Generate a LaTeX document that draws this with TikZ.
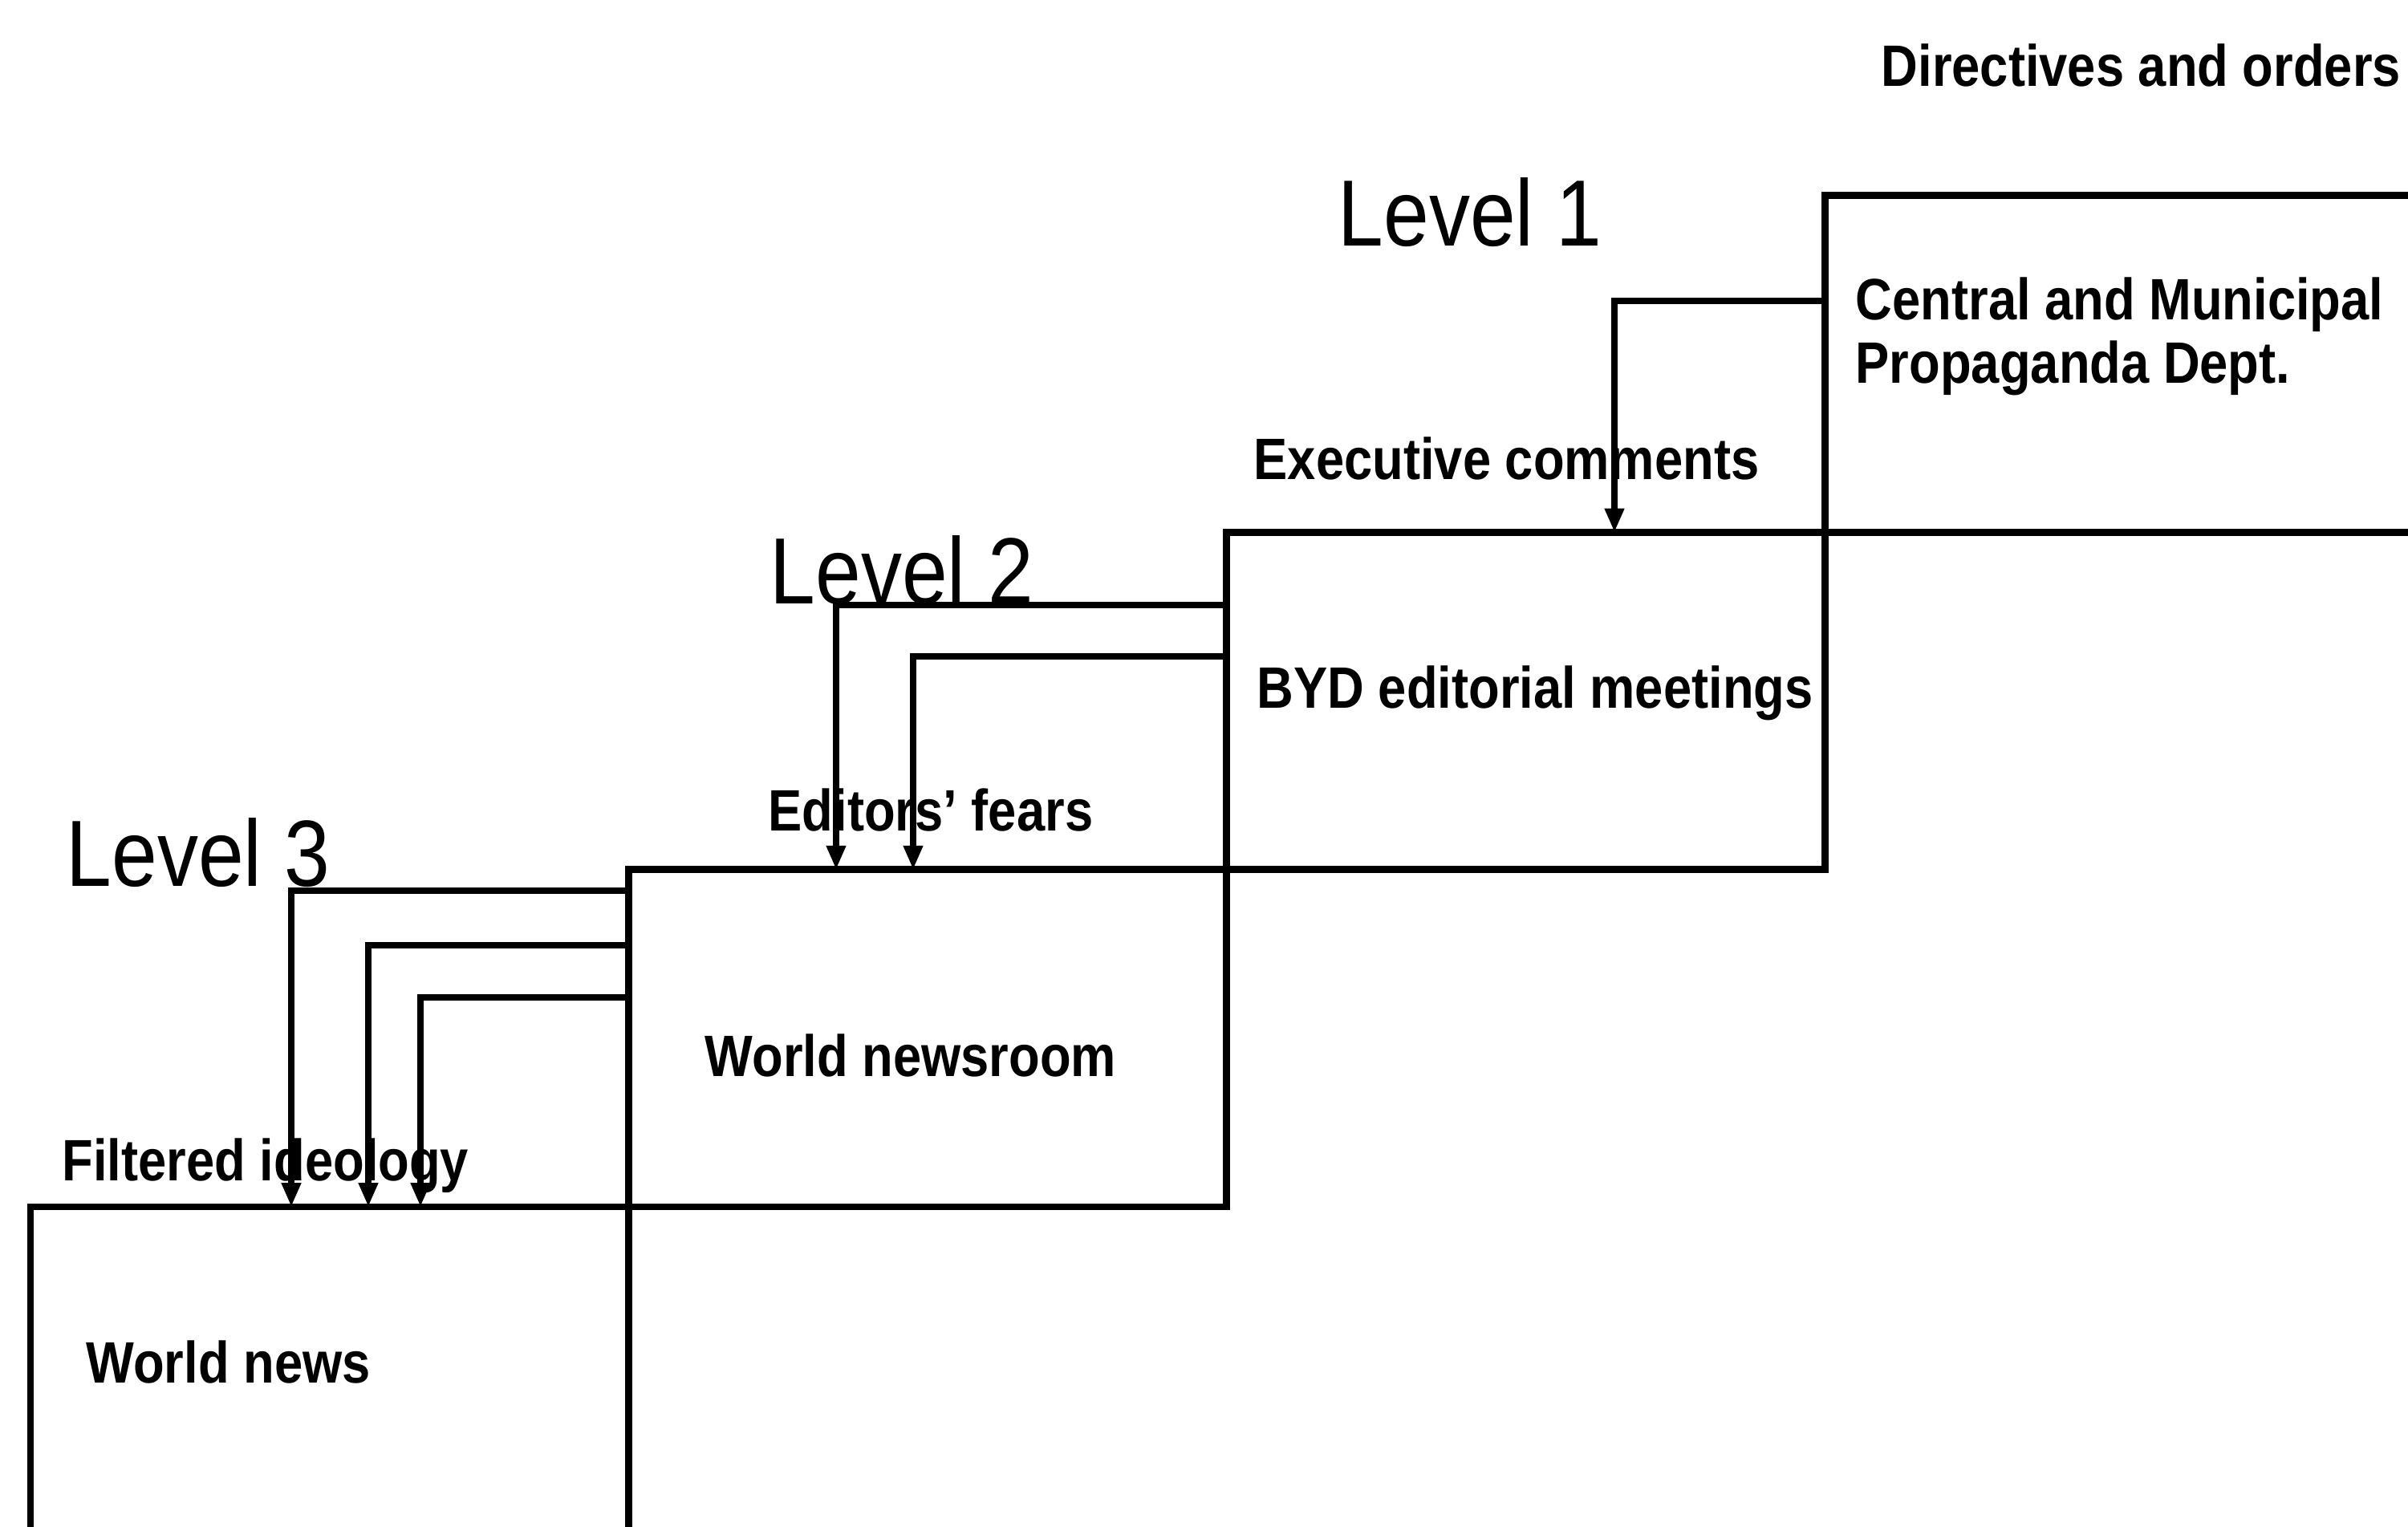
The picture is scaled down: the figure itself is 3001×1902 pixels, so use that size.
\documentclass[tikz,border=0pt]{standalone}
\usepackage{fontspec}
\setmainfont{Liberation Sans}
\usetikzlibrary{arrows.meta,positioning}

\begin{document}
\begin{tikzpicture}[x=0.01cm,y=-0.01cm,
    stage/.style={draw,line width=2.5pt,minimum width=7.45cm,minimum height=4.2cm,outer sep=0pt,inner sep=0pt},
    feed/.style={line width=2.3pt,-{Triangle[length=8.5pt,width=6.5pt]}},
    lvl/.style={font=\fontsize{29}{34}\selectfont,yscale=1.15,anchor=base west,inner sep=0pt},
    tag/.style={font=\bfseries\fontsize{18}{22}\selectfont,yscale=1.15,anchor=base west,inner sep=0pt}]
  \useasboundingbox (0,0) rectangle (3001,1902);
  \clip (0,0) rectangle (3001,1902);
  % the four steps
  \node[stage,anchor=north west] (news) at (38,1504) {};
  \node[stage,above right=0pt and 0pt of news] (room) {};
  \node[stage,above right=0pt and 0pt of room] (byd) {};
  \node[stage,above right=0pt and 0pt of byd] (dept) {};
  % texts
  \node[tag] (orders) at (2344,107) {Directives and orders};
  \node[lvl] (lv1) at (1667,306) {Level 1};
  \node[tag] (dept1) at (2312,398) {Central and Municipal};
  \node[tag] (dept2) at (2312,477) {Propaganda Dept.};
  \node[tag] (comments) at (1562,597) {Executive comments};
  \node[lvl] (lv2) at (959,752) {Level 2};
  \node[tag] (meet) at (1566,882) {BYD editorial meetings};
  \node[tag] (fears) at (957,1035) {Editors' fears};
  \node[lvl] (lv3) at (82,1104) {Level 3};
  \node[tag] (roomtxt) at (878,1341) {World newsroom};
  \node[tag] (filter) at (77,1471) {Filtered ideology};
  \node[tag] (newstxt) at (107,1723) {World news};
  % feeds down the stairs
  \coordinate (k1) at (2012,375);
  \draw[feed] (k1 -| dept.west) -| (k1 |- byd.north);
  \foreach \x/\y in {1042/754,1138/818}{
    \coordinate (k) at (\x,\y);
    \draw[feed] (k -| byd.west) -| (k |- room.north);
  }
  \foreach \x/\y in {363/1110,459/1178,524/1243}{
    \coordinate (k) at (\x,\y);
    \draw[feed] (k -| room.west) -| (k |- news.north);
  }
\end{tikzpicture}
\end{document}
